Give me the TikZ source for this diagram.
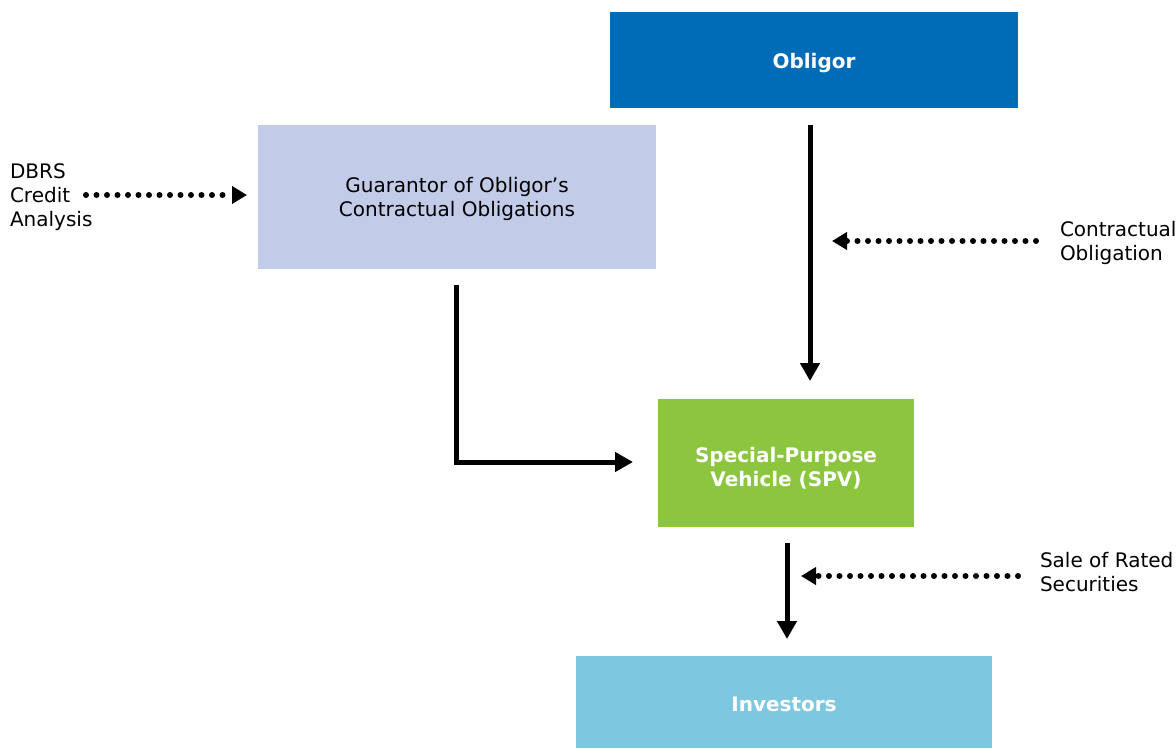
\documentclass[tikz,border=0pt]{standalone}
\usepackage{fontspec}
\setmainfont{DejaVu Sans}
\usetikzlibrary{arrows.meta}
\definecolor{obligorblue}{HTML}{006BB6}
\definecolor{guarblue}{HTML}{C2CCE8}
\definecolor{spvgreen}{HTML}{8CC63F}
\definecolor{invblue}{HTML}{7DC8E0}
\tikzset{
  box/.style={draw=none, inner sep=0pt, outer sep=0pt},
  txt/.style={inner sep=0pt, outer sep=0pt, align=center, font=\fontsize{20}{24}\selectfont},
  boldtxt/.style={txt, text=white, font=\fontsize{20}{24}\selectfont\bfseries},
  lbl/.style={inner sep=0pt, outer sep=0pt, align=left, anchor=north west, font=\fontsize{20}{24}\selectfont},
  solidarrow/.style={line width=5pt, -{Triangle[length=18pt,width=19pt]}},
  dotarrow/.style={line width=6pt, line cap=round, dash pattern=on 0pt off 10.5pt, -{Triangle[length=15pt,width=17pt,line cap=butt]}},
}
\begin{document}
\begin{tikzpicture}[x=1pt,y=-1pt]
\useasboundingbox (0,0) rectangle (1176,748);
\node[box, fill=obligorblue, minimum width=408, minimum height=96] (obligor) at (814,60) {};
\node[boldtxt] (obligortext) at ([yshift=-3pt]obligor.center) {Obligor};
\node[box, fill=guarblue, minimum width=398, minimum height=144] (guar) at (457,197) {};
\node[txt] (guartext) at ([yshift=-2pt]guar.center) {Guarantor of Obligor’s\\Contractual Obligations};
\node[box, fill=spvgreen, minimum width=256, minimum height=128] (spv) at (786,463) {};
\node[boldtxt] (spvtext) at ([yshift=-5pt]spv.center) {Special-Purpose\\Vehicle (SPV)};
\node[box, fill=invblue, minimum width=416, minimum height=92] (inv) at (784,702) {};
\node[boldtxt] (invtext) at ([yshift=-2pt]inv.center) {Investors};
\node[lbl] (dbrs) at (10,164) {DBRS\\Credit\\Analysis};
\node[lbl] (contract) at (1060,221) {Contractual\\Obligation};
\node[lbl] (sale) at (1040,552) {Sale of Rated\\Securities};
% connectors
\coordinate (o1) at (810,125);
\coordinate (o2) at (810,381);
\draw[solidarrow] (o1) -- (o2);
\coordinate (g1) at (456,285);
\coordinate (g2) at (456,462);
\coordinate (g3) at (633,462);
\draw[solidarrow, line join=miter] (g1) -- (g2) -- (g3);
\coordinate (s1) at (787,543);
\coordinate (s2) at (787,639);
\draw[solidarrow] (s1) -- (s2);
\coordinate (d1) at (86,195);
\coordinate (d2) at (247,195);
\draw[dotarrow] (d1) -- (d2);
\coordinate (c1) at (1036,241);
\coordinate (c2) at (832,241);
\draw[dotarrow] (c1) -- (c2);
\coordinate (r1) at (1018,576);
\coordinate (r2) at (801,576);
\draw[dotarrow] (r1) -- (r2);
\end{tikzpicture}
\end{document}
